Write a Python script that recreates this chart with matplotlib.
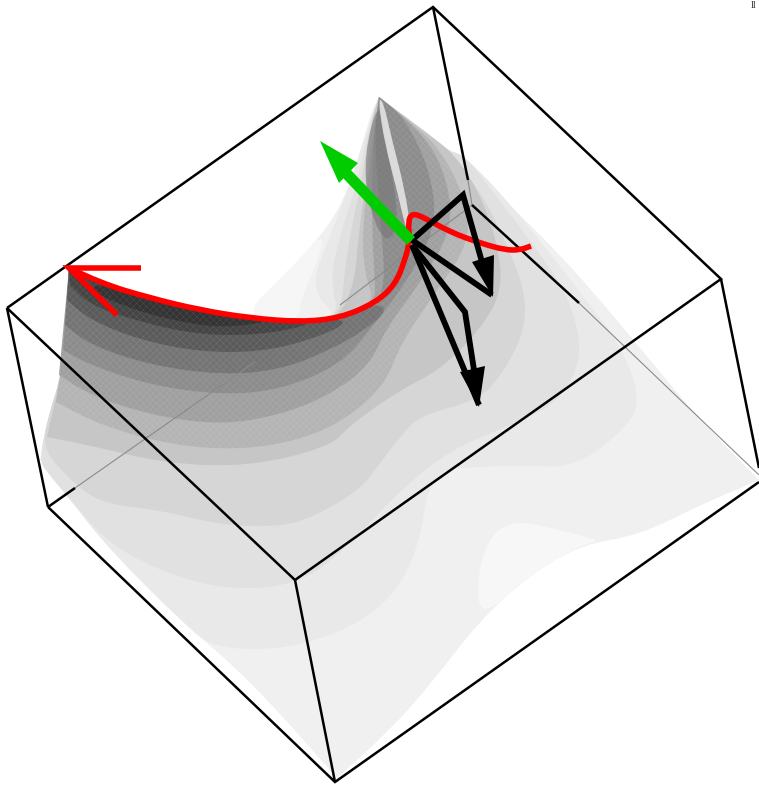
import matplotlib as mpl

mpl.use('agg')
import matplotlib.pyplot as plt
from matplotlib.patches import PathPatch, Polygon
from matplotlib.path import Path

ridge_top = [(69, 268), (69, 268), (100, 283), (150, 298), (200, 310), (250, 318), (300, 322), (340, 318),
             (375, 303), (395, 285), (405, 260), (410, 240)]
left_edge = [(40, 460), (45, 430), (60, 380), (66, 340)]
lower_left = [(337, 778), (337, 778), (250, 680), (180, 620), (110, 550), (70, 500), (40, 460)]
back_right = [(379, 97), (379, 97), (395, 110), (420, 140), (445, 152), (465, 155), (490, 185), (520, 215),
              (560, 255), (600, 300), (650, 360), (700, 420), (759, 480), (759, 480)]
lower_right = [(700, 505), (640, 535), (580, 545), (530, 575), (480, 620), (430, 685), (390, 730)]
back_left = [(240, 318), (290, 270), (330, 225), (350, 185), (365, 135), (372, 110)]

light_patch = [(480, 620), (477, 575), (490, 535), (515, 520), (560, 530), (603, 541), (580, 545), (530, 575)]
pale_strip = [(240, 318), (290, 270), (325, 230), (318, 262), (300, 300), (300, 322)]

band_grey = ['#e9e9e9', '#e1e1e1', '#d6d6d6', '#c6c6c6', '#b4b4b4', '#a0a0a0', '#8c8c8c', '#747474',
             '#5a5a5a', '#444444', '#333333']
band_a = [(379, 97), (379, 97), (440, 150), (465, 155), (520, 215), (590, 305), (620, 345), (640, 395), (630, 425),
          (575, 468), (520, 465), (480, 467), (430, 470), (418, 555), (380, 613), (300, 648), (215, 650),
          (180, 620), (110, 550), (70, 500), (40, 460), (45, 430), (60, 380), (66, 340)] + ridge_top[:8] + \
         [(310, 290), (328, 240), (350, 185), (365, 135)]
band_b = [(379, 97), (379, 97), (445, 150), (465, 155), (495, 195), (530, 240), (565, 290), (580, 335), (578, 370),
          (555, 405), (510, 425), (450, 450), (400, 490), (340, 555), (295, 585), (230, 590), (170, 575),
          (110, 545), (75, 505), (45, 470), (40, 460), (45, 430), (60, 380), (66, 340)] + ridge_top[:8] + \
         [(330, 280), (340, 235), (358, 180), (368, 130)]
band_c = [(379, 97), (379, 97), (445, 150), (480, 190), (505, 240), (525, 290), (525, 330), (505, 370), (480, 400),
          (420, 415), (400, 437), (380, 463), (360, 490), (313, 517), (280, 527), (220, 525), (160, 510),
          (97, 503), (60, 470), (42, 445), (50, 410), (60, 380), (66, 340)] + ridge_top[:8] + \
         [(345, 270), (350, 235), (362, 180), (370, 125)]
band_d = [(379, 97), (379, 97), (430, 135), (455, 155), (478, 190), (497, 240), (503, 290), (480, 330), (440, 370),
          (400, 390), (350, 425), (330, 447), (247, 467), (163, 463), (97, 447), (47, 437), (47, 437), (60, 380),
          (66, 340)] + ridge_top[:8] + [(355, 280), (358, 240), (366, 180), (372, 120)]
band_e = [(379, 97), (379, 97), (420, 130), (440, 150), (462, 190), (472, 240), (430, 300), (400, 345), (385, 385),
          (345, 420), (300, 440), (240, 450), (170, 445), (100, 425), (56, 402), (56, 402), (66, 340)] + \
         ridge_top[:9] + [(365, 275), (362, 235), (370, 160)]
band_e2 = [(379, 97), (379, 97), (425, 135), (448, 180), (452, 230), (422, 280), (385, 330), (370, 365), (330, 395),
           (280, 415), (220, 425), (150, 415), (90, 395), (59, 375), (59, 375)] + ridge_top[:9] + \
          [(375, 280), (372, 235), (372, 150)]
band_f = [(379, 97), (379, 97), (405, 118), (430, 170), (437, 225), (408, 280), (370, 330), (340, 365), (280, 390),
          (220, 395), (150, 385), (90, 365), (63, 350), (63, 350)] + ridge_top[:9] + \
         [(385, 285), (382, 235), (374, 140)]
band_g = [(388, 310), (365, 330), (330, 350), (280, 370), (220, 375), (150, 365), (90, 345), (65, 325), (65, 325)] + \
         ridge_top[:9]
band_h = [(345, 325), (310, 340), (260, 352), (200, 352), (140, 340), (90, 320), (67, 300), (67, 300)] + ridge_top[:8]
band_i = [(310, 325), (260, 335), (200, 335), (140, 322), (90, 305), (70, 285), (70, 285)] + ridge_top[:7]
band_j = [(270, 322), (220, 328), (170, 320), (120, 305), (90, 290)] + ridge_top[2:6]
bands = [band_a, band_b, band_c, band_d, band_e, band_e2, band_f, band_g, band_h, band_i, band_j]

ridge_dark = [(379, 97), (388, 150), (400, 225), (385, 245), (368, 205), (364, 155)]
ridge_white = [(378, 100), (383, 100), (392, 140), (405, 190), (411, 232), (407, 234), (397, 190), (385, 145)]

# box edges
box_front = [(7, 308), (295, 580), (721, 279), (433, 7), (7, 308)]
box_bottom = [(48, 507), (335, 782), (759, 482)]
box_struts = [[(7, 308), (48, 507)], [(295, 580), (335, 782)], [(721, 279), (759, 468)],
              [(433, 7), (468, 180)], [(48, 507), (75, 488)], [(472, 205), (579, 303)]]
box_hidden = [[(75, 488), (255, 362)], [(340, 305), (472, 205)], [(468, 180), (472, 205)], [(579, 303), (759, 475)]]

red_curve = ridge_top[1:] + [(408, 222), (412, 213), (425, 218), (450, 232), (480, 243), (505, 250), (520, 250), (531, 246)]
red_barbs = [(141, 268), (69, 268), (117, 315)]

green_shaft = [(411, 241), (345, 172)]
green_head = [(320, 141), (358, 163), (339, 183)]

black_one = [(412, 240), (463, 195), (482, 262)]
black_one_back = [(412, 240), (492, 295)]
black_one_head = [(493, 297), (472, 262), (494, 255)]
black_two = [(412, 245), (465, 312), (474, 370)]
black_two_back = [(412, 245), (479, 405)]
black_two_head = [(479, 407), (460, 372), (485, 366)]


def smooth_path(pts, closed=True):
  # quadratic pieces between the midpoints, the read points act as control points
  mids = lambda a, b: ((a[0] + b[0]) / 2, (a[1] + b[1]) / 2)
  if closed:
    verts = [mids(pts[-1], pts[0])]
    codes = [Path.MOVETO]
    for i, p in enumerate(pts):
      verts += [p, mids(p, pts[(i + 1) % len(pts)])]
      codes += [Path.CURVE3, Path.CURVE3]
  else:
    verts = [pts[0]]
    codes = [Path.MOVETO]
    for i in range(1, len(pts) - 1):
      verts += [pts[i], mids(pts[i], pts[i + 1])]
      codes += [Path.CURVE3, Path.CURVE3]
    verts.append(pts[-1])
    codes.append(Path.LINETO)
  return Path(verts, codes)


def fill(ax, pts, color, **kw):
  ax.add_patch(Polygon(pts, closed=True, facecolor=color, edgecolor='none', lw=0, **kw))


def soft_fill(ax, pts, color, **kw):
  ax.add_patch(PathPatch(smooth_path(pts), facecolor=color, lw=0, **kw))


def line(ax, pts, color='black', lw=1.8, **kw):
  xs, ys = zip(*pts)
  ax.plot(xs, ys, color=color, lw=lw, solid_capstyle='butt', solid_joinstyle='miter', **kw)


fig = plt.figure(figsize=(7.59, 7.85), dpi=100)
ax = fig.add_axes([0, 0, 1, 1])
ax.set_xlim(0, 759)
ax.set_ylim(785, 0)
ax.axis('off')

# surface
soft_fill(ax, ridge_top[:7] + back_left + back_right + lower_right + lower_left + left_edge, '#f0f0f0',
          edgecolor='none')
soft_fill(ax, light_patch, '#f7f7f7', edgecolor='none')
soft_fill(ax, pale_strip, '#f6f6f6', edgecolor='none')
mpl.rcParams['hatch.linewidth'] = 0.35
for grey, band in zip(band_grey, bands):
  darkish = grey in band_grey[4:]
  soft_fill(ax, band, grey, edgecolor=(1, 1, 1, 0.13) if darkish else 'none', hatch='xxxxx' if darkish else None)
soft_fill(ax, ridge_dark, '#767676', alpha=0.6, edgecolor='none')
soft_fill(ax, ridge_white, '#efefef', alpha=0.8, edgecolor='none')

for seg in box_hidden:
  line(ax, seg, color='#8a8a8a', lw=0.8)
line(ax, box_front)
line(ax, box_bottom)
for seg in box_struts:
  line(ax, seg)

# arrows
ax.add_patch(PathPatch(smooth_path(red_curve, closed=False), facecolor='none', edgecolor='#ff0000', lw=4,
                       capstyle='butt', zorder=4))
line(ax, red_barbs, color='#ff0000', lw=4, zorder=4)
line(ax, green_shaft, color='#00cc00', lw=8, zorder=5)
fill(ax, green_head, '#00cc00', zorder=5)
line(ax, black_one, lw=4.2, zorder=4)
line(ax, black_one_back, lw=4.2, zorder=4)
fill(ax, black_one_head, 'black', zorder=4)
line(ax, black_two, lw=4.2, zorder=4)
line(ax, black_two_back, lw=4.2, zorder=4)
fill(ax, black_two_head, 'black', zorder=4)

ax.text(751, 8, 'll', fontsize=7, family='Liberation Serif', color='#333333')

fig.savefig('out.png', dpi=100)
plt.close(fig)
